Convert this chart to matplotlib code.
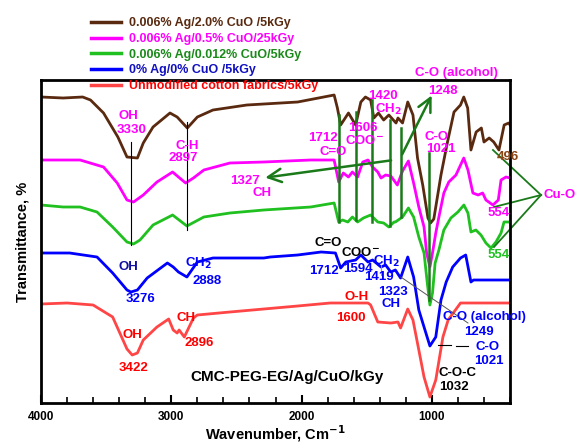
import numpy as np
import matplotlib.pyplot as plt
from matplotlib.ticker import MultipleLocator

plt.rcParams['font.family'] = ['Liberation Sans', 'DejaVu Sans']
plt.rcParams['font.weight'] = 'bold'

################################################################ spectra
# transmittance in arbitrary units, curves are stacked
wn_brown = [4000, 3830, 3680, 3620, 3520, 3410, 3340, 3260, 3215, 3140, 3010, 2955, 2877, 2800,
            2680, 2420, 2030, 1750, 1725, 1700, 1675, 1640, 1585, 1545, 1510, 1470, 1445, 1410,
            1370, 1330, 1275, 1260, 1225, 1185, 1145, 1110, 1070, 1030, 1010, 985, 930, 880,
            830, 780, 755, 725, 700, 660, 620, 600, 560, 525, 485, 445, 410, 400]
t_brown = [306, 305, 306, 303, 290, 266, 246, 245, 260, 276, 290, 286, 275, 286,
           293, 298, 301, 308, 295, 278, 283, 290, 278, 301, 306, 303, 285, 290,
           283, 288, 280, 285, 280, 301, 288, 245, 218, 185, 180, 184, 228, 261,
           291, 298, 306, 295, 253, 271, 275, 261, 265, 261, 253, 278, 280, 278]

wn_magenta = [4000, 3700, 3520, 3415, 3340, 3290, 3215, 3110, 2990, 2945, 2890, 2830, 2750, 2550,
              2290, 1930, 1750, 1715, 1680, 1640, 1610, 1570, 1530, 1490, 1455, 1415, 1390, 1355,
              1315, 1265, 1225, 1180, 1140, 1100, 1060, 1040, 1015, 995, 970, 946, 908, 870,
              815, 755, 723, 685, 645, 610, 585, 531, 490, 469, 431, 400]
t_magenta = [243, 243, 236, 220, 203, 201, 208, 221, 231, 226, 220, 225, 233, 240,
             241, 243, 243, 221, 230, 226, 231, 226, 241, 243, 236, 231, 225, 228,
             227, 218, 232, 242, 220, 196, 176, 150, 136, 150, 170, 186, 210, 221,
             228, 245, 233, 210, 208, 210, 203, 198, 203, 223, 226, 225]

wn_green = [4000, 3830, 3700, 3570, 3450, 3340, 3290, 3240, 3140, 2990, 2880, 2750, 2550, 2290,
            1930, 1750, 1715, 1685, 1645, 1610, 1570, 1525, 1470, 1415, 1370, 1330, 1290, 1280,
            1225, 1180, 1140, 1100, 1060, 1035, 1015, 995, 975, 946, 908, 854, 800, 754,
            723, 700, 662, 623, 585, 546, 508, 469, 446, 400]
t_green = [198, 196, 196, 191, 176, 161, 159, 163, 178, 188, 177, 186, 190, 193,
           196, 200, 181, 183, 181, 186, 181, 185, 188, 181, 180, 176, 181, 181,
           186, 195, 186, 166, 150, 120, 98, 110, 140, 153, 173, 185, 191, 198,
           190, 171, 173, 168, 160, 155, 161, 170, 181, 181]

wn_blue = [4000, 3780, 3570, 3450, 3340, 3310, 3260, 3185, 3030, 2985, 2945, 2880, 2800, 2680,
           2290, 2240, 2030, 1850, 1740, 1700, 1660, 1585, 1545, 1490, 1455, 1390, 1355, 1315,
           1280, 1240, 1185, 1140, 1100, 1060, 1015, 970, 930, 890, 840, 780, 740, 700,
           680, 400]
t_blue = [150, 150, 146, 130, 113, 111, 113, 125, 140, 136, 131, 126, 141, 145,
          145, 146, 148, 151, 150, 135, 141, 143, 148, 141, 143, 136, 138, 131,
          133, 125, 146, 126, 93, 76, 57, 66, 103, 121, 136, 145, 148, 121,
          123, 123]

wn_red = [4000, 3800, 3600, 3450, 3340, 3300, 3260, 3215, 3110, 3020, 2985, 2955, 2940, 2900,
          2830, 2800, 2550, 2030, 1780, 1490, 1470, 1415, 1315, 1260, 1240, 1185, 1145, 1100,
          1060, 1015, 970, 915, 875, 780, 400]
t_red = [99, 100, 98, 86, 54, 48, 50, 63, 76, 84, 73, 70, 73, 66,
         85, 88, 91, 97, 100, 100, 98, 81, 80, 81, 75, 94, 83, 53,
         26, 6, 23, 66, 83, 100, 100]

labels = ['0.006% Ag/2.0% CuO /5kGy', '0.006% Ag/0.5% CuO/25kGy', '0.006% Ag/0.012% CuO/5kGy',
          '0% Ag/0% CuO /5kGy', 'Unmodified cotton fabrics/5kGy']

brown = '#5a2a10'
magenta = '#ff00ff'
green = '#1fc01f'
blue = '#0000ff'
red = '#ff4545'
dkgreen = '#1a7a1a'

################################################################ figure
fig = plt.figure(figsize=(5.75, 4.43), dpi=100)
ax = fig.add_axes([0.0713, 0.0903, 0.8157, 0.7291])

ax.plot(wn_brown, t_brown, color=brown, lw=2, label=labels[0])
ax.plot(wn_magenta, t_magenta, color=magenta, lw=2, label=labels[1])
ax.plot(wn_green, t_green, color=green, lw=2, label=labels[2])
ax.plot(wn_blue, t_blue, color=blue, lw=2, label=labels[3])
ax.plot(wn_red, t_red, color=red, lw=2, label=labels[4])

ax.set_xlim(4000, 400)
ax.set_ylim(0, 323)

# thin black guide lines for OH / CH
ax.plot([3308, 3308], [158, 261], color='k', lw=0.8)
ax.plot([2877, 2877], [173, 281], color='k', lw=0.8)

# green vertical lines
for x, y0, y1 in [(1715, 181, 288), (1585, 183, 291), (1462, 181, 303), (1323, 177, 283),
                  (1238, 186, 275), (1023, 103, 250)]:
    ax.plot([x, x], [y0, y1], color=dkgreen, lw=1.8)

# arrows
ax.annotate('', xy=(2300, 225), xytext=(1292, 243),
            arrowprops=dict(arrowstyle='->', color=dkgreen, lw=1.8, mutation_scale=24))
ax.annotate('', xy=(992, 310), xytext=(1238, 246),
            arrowprops=dict(arrowstyle='->', color=dkgreen, lw=1.8, mutation_scale=24))

# Cu-O lines
for x, y in [(531, 253), (523, 196), (523, 156)]:
    ax.plot([162, x], [208, y], color=dkgreen, lw=1.3, clip_on=False)

# grey lines for blue curve
ax.plot([1238, 723], [126, 80], color='#555555', lw=0.7)
ax.plot([1392, 1392], [128, 138], color='#999999', lw=0.8)
ax.plot([954, 854], [58, 58], color='k', lw=0.8)
ax.plot([815, 723], [57, 57], color='k', lw=0.8)

################################################################ annotations
notes = [
    ('OH', 3331, 287, magenta), ('3330', 3308, 273, magenta),
    ('C-H', 2877, 257, magenta), ('2897', 2908, 245, magenta),
    ('1327', 2431, 222, magenta), ('CH', 2300, 210, magenta),
    ('1712', 1838, 265, magenta), ('C=O', 1754, 251, magenta),
    ('1606', 1531, 275, magenta), ('COO$^{-}$', 1515, 263, magenta),
    ('1420', 1377, 307, magenta), ('CH$_2$', 1331, 294, magenta),
    ('C-O (alcohol)', 815, 330, magenta), ('1248', 915, 312, magenta),
    ('C-O', 962, 266, magenta), ('1021', 931, 254, magenta),
    ('496', 415, 246, '#8b4513'), ('Cu-O', 23, 208, magenta),
    ('554', 485, 190, magenta), ('554', 485, 148, green),
    ('OH', 3331, 136, '#1010a0'), ('3276', 3238, 104, blue),
    ('CH$_2$', 2792, 140, blue), ('2888', 2723, 122, blue),
    ('OH', 3300, 68, 'red'), ('3422', 3292, 35, 'red'),
    ('CH', 2885, 85, 'red'), ('2896', 2785, 60, 'red'),
    ('C=O', 1792, 160, 'k'), ('COO$^{-}$', 1546, 151, 'k'),
    ('1712', 1831, 132, blue), ('1594', 1569, 134, blue),
    ('CH$_2$', 1346, 142, blue), ('1419', 1408, 126, blue),
    ('1323', 1300, 111, blue), ('CH', 1315, 99, blue),
    ('O-H', 1577, 106, 'red'), ('1600', 1623, 85, 'red'),
    ('C-O (alcohol)', 600, 86, blue), ('1249', 638, 71, blue),
    ('C-O', 569, 56, blue), ('1021', 562, 42, blue),
    ('C-O-C', 800, 30, 'k'), ('1032', 831, 16, 'k'),
]
for txt, x, y, c in notes:
    ax.text(x, y, txt, color=c, fontsize=9.5, ha='center', va='center', fontweight='bold')

ax.text(2108, 26, 'CMC-PEG-EG/Ag/CuO/kGy', fontsize=11, ha='center', va='center',
        fontweight='bold', color='k')

################################################################ axes styling
ax.set_xticks([4000, 3000, 2000, 1000])
ax.xaxis.set_minor_locator(MultipleLocator(200))
ax.set_yticks([])
ax.tick_params(axis='x', which='major', direction='in', length=6, width=1.5, labelsize=8.5, pad=6)
ax.tick_params(axis='x', which='minor', direction='in', length=4, width=1.2)
for s in ax.spines.values():
    s.set_linewidth(2)

ax.set_xlabel('Wavenumber, Cm$^{-1}$', fontsize=10.5, fontweight='bold', labelpad=0)
ax.set_ylabel('Transmittance, %', fontsize=10.5, fontweight='bold', labelpad=8)

leg = ax.legend(loc='upper left', bbox_to_anchor=(0.095, 1.21), frameon=False, fontsize=9,
                handlelength=2.4, handletextpad=0.7, labelspacing=0.3, borderaxespad=0,
                labelcolor=[brown, magenta, '#1a8a1a', '#1010c0', 'red'])
for line in leg.get_lines():
    line.set_linewidth(2.5)

plt.savefig('out.png', dpi=100)
